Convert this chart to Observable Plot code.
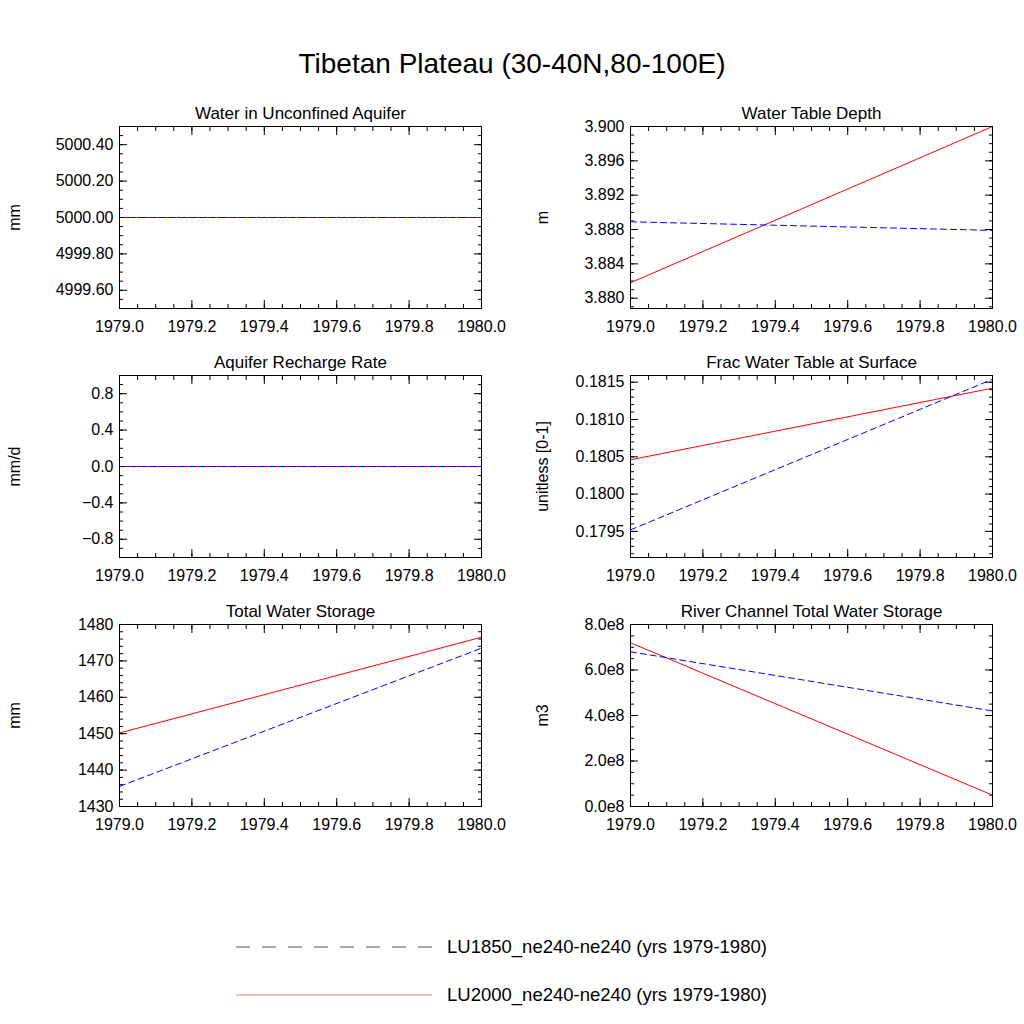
<!DOCTYPE html>
<html><head><meta charset="utf-8">
<script src="https://cdn.jsdelivr.net/npm/d3@7"></script>
<script src="https://cdn.jsdelivr.net/npm/@observablehq/plot@0.6"></script>
<style>
body{margin:0;background:#fff;font-family:"Liberation Sans",Arial,sans-serif;}
#wrap{position:relative;width:1024px;height:1024px;}
.p{position:absolute;}
#title{position:absolute;top:48px;left:0;width:1024px;text-align:center;font-size:28px;}
</style></head><body>
<div id="wrap"><div id="title">Tibetan Plateau (30-40N,80-100E)</div></div>
<script>
const years = [1979.0, 1980.0];
const titles = ["Water in Unconfined Aquifer","Water Table Depth","Aquifer Recharge Rate","Frac Water Table at Surface","Total Water Storage","River Channel Total Water Storage"];
const units = ["mm","m","mm/d","unitless [0-1]","mm","m3"];
const lu1850 = [[5000.0,5000.0],[3.8889,3.8879],[0,0],[0.17952,0.18154],[1435.5,1473.5],[6.8e8,4.2e8]];
const lu2000 = [[5000.0,5000.0],[3.8818,3.9000],[0,0],[0.18046,0.18142],[1450.2,1476.5],[7.2e8,0.5e8]];
const yDomains = [[4999.5,5000.5],[3.8788,3.9],[-1,1],[0.17915,0.18159],[1430,1480],[0,8e8]];
const yMajor = [[4999.6,4999.8,5000,5000.2,5000.4],[3.880,3.884,3.888,3.892,3.896,3.900],[-0.8,-0.4,0,0.4,0.8],[0.1795,0.18,0.1805,0.181,0.1815],[1430,1440,1450,1460,1470,1480],[0,2e8,4e8,6e8,8e8]];
const yMinorStep = [0.05,0.001,0.1,0.0001,2,0.5e8];
const yFormats = [d3.format(".2f"),d3.format(".3f"),d3.format(".1f"),d3.format(".4f"),d3.format("d"),v=>(v/1e8).toFixed(1)+"e8"];
const xMajor = [1979.0,1979.2,1979.4,1979.6,1979.8,1980.0];
const xMinor = d3.range(0,21).map(i=>1979+i*0.05);
const none = () => "";

const wrap = document.getElementById("wrap");
for (let k=0;k<6;k++){
  const col = k%2, row = Math.floor(k/2);
  const dom = yDomains[k];
  const yMin = d3.range(Math.ceil(dom[0]/yMinorStep[k]-1e-6), Math.floor(dom[1]/yMinorStep[k]+1e-6)+1).map(i=>i*yMinorStep[k]);
  const d1 = years.map((x,i)=>({x,y:lu1850[k][i]}));
  const d2 = years.map((x,i)=>({x,y:lu2000[k][i]}));
  const st = {fontSize:"16px",fontFamily:"Liberation Sans, Arial, sans-serif",color:"#000",background:"none",overflow:"visible"};
  const ml = col===0?119:118;
  const p = Plot.plot({
    width:512, height:260, marginLeft:ml, marginRight:512-ml-362, marginTop:36, marginBottom:42,
    style:st,
    x:{domain:[1979,1980]}, y:{domain:dom},
    marks:[
      Plot.axisX({anchor:"bottom", ticks:xMajor, tickFormat:d3.format(".1f"), tickSize:0, tickPadding:12, label:null, fontSize:16}),
      Plot.axisX({anchor:"bottom", ticks:xMajor, tickFormat:none, tickSize:-8, label:null}),
      Plot.axisX({anchor:"top", ticks:xMajor, tickFormat:none, tickSize:-8, label:null}),
      Plot.axisX({anchor:"bottom", ticks:xMinor, tickFormat:none, tickSize:-4, label:null}),
      Plot.axisX({anchor:"top", ticks:xMinor, tickFormat:none, tickSize:-4, label:null}),
      Plot.axisY({anchor:"left", ticks:yMajor[k], tickFormat:yFormats[k], tickSize:0, tickPadding:6, label:units[k], labelAnchor:"center", labelArrow:"none", labelOffset: col===0?111:94, fontSize:16}),
      Plot.axisY({anchor:"left", ticks:yMajor[k], tickFormat:none, tickSize:-8, label:null}),
      Plot.axisY({anchor:"right", ticks:yMajor[k], tickFormat:none, tickSize:-8, label:null}),
      Plot.axisY({anchor:"left", ticks:yMin, tickFormat:none, tickSize:-4, label:null}),
      Plot.axisY({anchor:"right", ticks:yMin, tickFormat:none, tickSize:-4, label:null}),
      Plot.line(d2,{x:"x",y:"y",stroke:"red",strokeWidth:1}),
      Plot.line(d1,{x:"x",y:"y",stroke:"blue",strokeWidth:1,strokeDasharray:"6,4"}),
      Plot.frame({stroke:"#000"}),
      Plot.text([titles[k]],{frameAnchor:"top",dy:-20,fontSize:17,text:d=>d})
    ]
  });
  const div=document.createElement("div"); div.className="p";
  div.style.left=(col*512)+"px"; div.style.top=(90+row*249)+"px";
  div.appendChild(p); wrap.appendChild(div);
}
const leg=document.createElement("div"); leg.className="p"; leg.style.left="0px"; leg.style.top="920px";
leg.innerHTML=`<svg width="1024" height="100" style="font-family:Liberation Sans,Arial,sans-serif">
<line x1="236" x2="432" y1="27" y2="27" stroke="#223" stroke-width="0.8" stroke-dasharray="14,12"/>
<text x="447" y="33" font-size="18.5">LU1850_ne240-ne240 (yrs 1979-1980)</text>
<line x1="236" x2="432" y1="75" y2="75" stroke="#c66" stroke-width="0.8"/>
<text x="447" y="81" font-size="18.5">LU2000_ne240-ne240 (yrs 1979-1980)</text></svg>`;
wrap.appendChild(leg);
</script></body></html>
